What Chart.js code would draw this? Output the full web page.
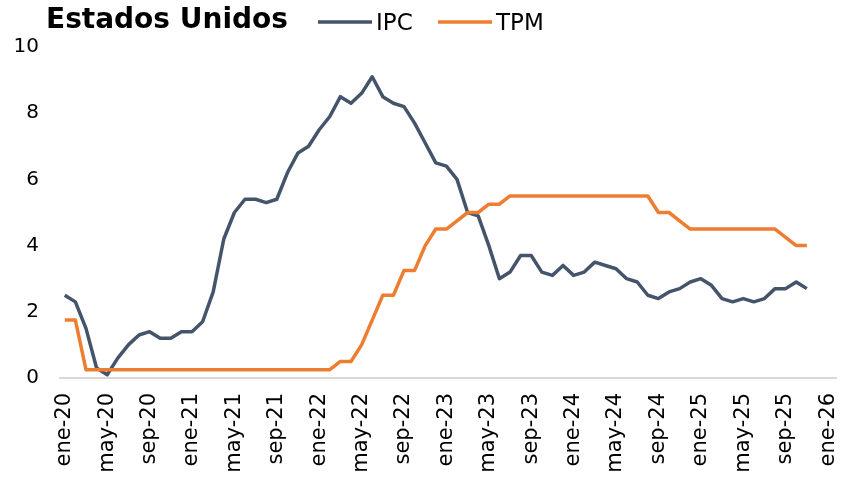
<!DOCTYPE html>
<html>
<head>
<meta charset="utf-8">
<script src="https://cdn.jsdelivr.net/npm/chart.js@4.4.1/dist/chart.umd.min.js"></script>
<style>
  html, body { margin: 0; padding: 0; background: #fff; }
  #wrap { width: 841px; height: 477px; }
</style>
</head>
<body>
<div id="wrap"><canvas id="us-chart" width="841" height="477"></canvas></div>
<script>
// Tick labels every 4 months, ene-20 .. ene-26
const tickLabels = ["ene-20", "may-20", "sep-20", "ene-21", "may-21", "sep-21", "ene-22", "may-22", "sep-22",
    "ene-23", "may-23", "sep-23", "ene-24", "may-24", "sep-24", "ene-25", "may-25", "sep-25", "ene-26"];
const tickStep = 4;

// IPC, monthly from ene-20 to nov-25
const ipcValues = [
    2.5, 2.3, 1.5, 0.3, 0.1, 0.6, 1.0, 1.3, 1.4, 1.2, 1.2, 1.4,
    1.4, 1.7, 2.6, 4.2, 5.0, 5.4, 5.4, 5.3, 5.4, 6.2, 6.8, 7.0,
    7.5, 7.9, 8.5, 8.3, 8.6, 9.1, 8.5, 8.3, 8.2, 7.7, 7.1, 6.5,
    6.4, 6.0, 5.0, 4.9, 4.0, 3.0, 3.2, 3.7, 3.7, 3.2, 3.1, 3.4,
    3.1, 3.2, 3.5, 3.4, 3.3, 3.0, 2.9, 2.5, 2.4, 2.6, 2.7, 2.9,
    3.0, 2.8, 2.4, 2.3, 2.4, 2.3, 2.4, 2.7, 2.7, 2.9, 2.7
];

// TPM, same months
const tpmValues = [
    1.75, 1.75, 0.25, 0.25, 0.25, 0.25, 0.25, 0.25, 0.25, 0.25, 0.25, 0.25,
    0.25, 0.25, 0.25, 0.25, 0.25, 0.25, 0.25, 0.25, 0.25, 0.25, 0.25, 0.25,
    0.25, 0.25, 0.5, 0.5, 1.0, 1.75, 2.5, 2.5, 3.25, 3.25, 4.0, 4.5,
    4.5, 4.75, 5.0, 5.0, 5.25, 5.25, 5.5, 5.5, 5.5, 5.5, 5.5, 5.5,
    5.5, 5.5, 5.5, 5.5, 5.5, 5.5, 5.5, 5.5, 5.0, 5.0, 4.75, 4.5,
    4.5, 4.5, 4.5, 4.5, 4.5, 4.5, 4.5, 4.5, 4.25, 4.0, 4.0
];

const yTicks = [0, 2, 4, 6, 8, 10];

const toPoints = arr => arr.map((v, i) => ({ x: i, y: v }));

// title + legend on one line above the plot
const headerPlugin = {
    id: "header",
    afterDraw(chart) {
        const ctx = chart.ctx;
        ctx.save();
        ctx.fillStyle = "#000";
        ctx.textBaseline = "alphabetic";
        ctx.font = "bold 28px 'DejaVu Sans'";
        ctx.textAlign = "left";
        ctx.fillText("Estados Unidos", 46, 28);

        ctx.font = "23px 'DejaVu Sans'";
        const items = [
            { ds: chart.data.datasets[0], x: 318 },
            { ds: chart.data.datasets[1], x: 438 }
        ];
        items.forEach(it => {
            ctx.strokeStyle = it.ds.borderColor;
            ctx.lineWidth = 3.5;
            ctx.beginPath();
            ctx.moveTo(it.x, 22);
            ctx.lineTo(it.x + 54, 22);
            ctx.stroke();
            ctx.fillText(it.ds.label, it.x + 58, 30);
        });
        ctx.restore();
    }
};

const usChart = new Chart(document.getElementById("us-chart"), {
    type: "line",
    data: {
        datasets: [{
            label: "IPC",
            data: toPoints(ipcValues),
            borderColor: "#44546A",
            borderWidth: 3.5,
            pointRadius: 0,
            order: 1
        }, {
            label: "TPM",
            data: toPoints(tpmValues),
            borderColor: "#ED7D31",
            borderWidth: 3.5,
            pointRadius: 0,
            order: 0
        }]
    },
    options: {
        responsive: false,
        animation: false,
        layout: {
            padding: { top: 47, right: 5, bottom: 0, left: 0 }
        },
        elements: {
            line: { tension: 0, borderJoinStyle: "round", borderCapStyle: "butt" }
        },
        scales: {
            x: {
                type: "linear",
                min: -0.45,
                max: 72.75,
                grid: { display: false, drawTicks: false },
                border: { display: true, color: "#d9d9d9", width: 2 },
                afterFit(scale) {
                    scale.height = 99;
                    scale.paddingLeft = 0;
                    scale.paddingRight = 0;
                },
                afterBuildTicks(scale) {
                    scale.ticks = tickLabels.map((t, i) => ({ value: i * tickStep }));
                },
                ticks: {
                    autoSkip: false,
                    minRotation: 90,
                    maxRotation: 90,
                    padding: 15,
                    color: "#000",
                    font: { family: "'DejaVu Sans'", size: 21 },
                    callback: (v) => tickLabels[v / tickStep]
                }
            },
            y: {
                min: 0,
                max: 10,
                grid: { display: false, drawTicks: false },
                border: { display: false },
                afterFit(scale) { scale.width = 60; },
                afterBuildTicks(scale) {
                    scale.ticks = yTicks.map(v => ({ value: v }));
                },
                ticks: {
                    padding: 21,
                    color: "#000",
                    font: { family: "'DejaVu Sans'", size: 20 }
                }
            }
        },
        plugins: {
            legend: { display: false },
            tooltip: { enabled: false }
        }
    },
    plugins: [headerPlugin]
});
</script>
</body>
</html>
